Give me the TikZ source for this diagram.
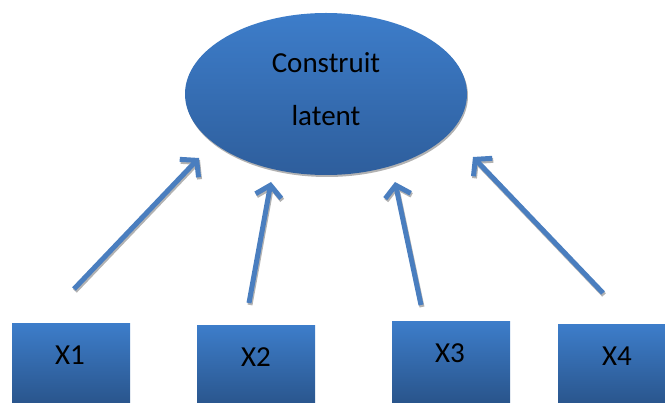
\documentclass[tikz,border=0pt]{standalone}
\usepackage{fontspec}
\setmainfont{Carlito}
\usetikzlibrary{arrows.meta,shapes.geometric}
\definecolor{topblue}{HTML}{3D7DCA}
\definecolor{botblue}{HTML}{2E5E9C}
\definecolor{arrowblue}{HTML}{4A7EBF}
\tikzset{
  latentnode/.style={ellipse, minimum width=282pt, minimum height=162pt, inner sep=0pt,
    top color=topblue, bottom color=botblue, draw=none},
  latenttext/.style={align=center, inner sep=0pt, font=\fontsize{29}{53}\selectfont},
  obsbox/.style={rectangle, minimum width=118pt, minimum height=90pt, inner sep=0pt,
    top color=topblue, bottom color=botblue!85!black, draw=none},
  obslabel/.style={font=\fontsize{29}{34}\selectfont, inner sep=0pt},
  loading/.style={draw=arrowblue, line width=5pt,
    -{Straight Barb[length=11pt, width=26pt, line width=5pt]}},
  loadingshadow/.style={draw=black!30, line width=5pt,
    -{Straight Barb[length=11pt, width=26pt, line width=5pt]}}
}
\begin{document}
\begin{tikzpicture}[x=1pt,y=-1pt]
\useasboundingbox (0,0) rectangle (665,403);
\clip (0,0) rectangle (665,403);
% shadow of ellipse
\fill[black!30] (327,96) ellipse [x radius=141, y radius=81];
\node[latentnode] (c) at (326,94) {};
\node[latenttext] (ct) at (326,89) {Construit\\latent};
% boxes
\node[obsbox, anchor=north west] (b1) at (12,323) {};
\node[obsbox, anchor=north west] (b2) at (197,325) {};
\node[obsbox, anchor=north west] (b3) at (392,321) {};
\node[obsbox, anchor=north west] (b4) at (558,324) {};
\node[obslabel] (t1) at (70,355) {X1};
\node[obslabel] (t2) at (256,357) {X2};
\node[obslabel] (t3) at (450,353) {X3};
\node[obslabel] (t4) at (617,356) {X4};
% arrow end points
\coordinate (s1) at (74,289); \coordinate (e1) at (199,158);
\coordinate (s2) at (249,303); \coordinate (e2) at (271,182);
\coordinate (s3) at (421,305); \coordinate (e3) at (395,182);
\coordinate (s4) at (603,293); \coordinate (e4) at (473,157);
\coordinate (ss1) at (75,291); \coordinate (es1) at (200,160);
\coordinate (ss2) at (250,305); \coordinate (es2) at (272,184);
\coordinate (ss3) at (422,307); \coordinate (es3) at (396,184);
\coordinate (ss4) at (604,295); \coordinate (es4) at (474,159);
\foreach \i in {1,2,3,4} {\draw[loadingshadow] (ss\i) -- (es\i);}
\foreach \i in {1,2,3,4} {\draw[loading] (s\i) -- (e\i);}
\end{tikzpicture}
\end{document}
